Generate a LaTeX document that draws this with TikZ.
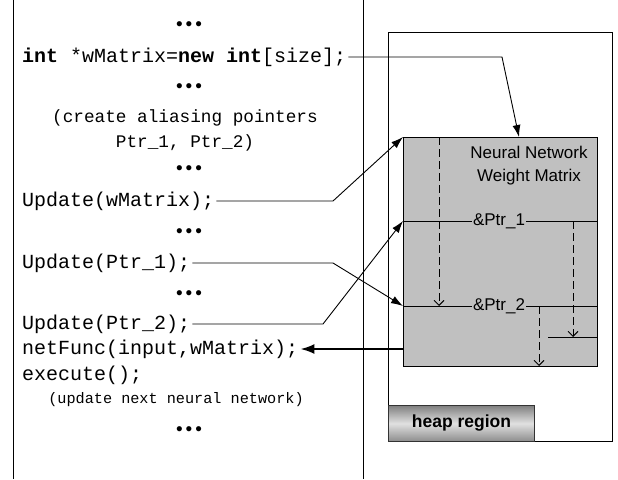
\documentclass[tikz,border=0pt]{standalone}
\usepackage{fontspec}
\setmainfont{Liberation Sans}
\newfontfamily\codefont{Liberation Mono}
\usetikzlibrary{arrows.meta,calc}
\definecolor{wmgray}{HTML}{C0C0C0}
\newcommand{\threedots}{•\hspace{3pt}•\hspace{3pt}•}
\begin{document}
\begin{tikzpicture}[x=1pt,y=-1pt,
  code/.style={anchor=west,inner xsep=2pt,inner ysep=0pt,font=\codefont\fontsize{20}{24}\selectfont},
  dotsnode/.style={inner sep=0pt,anchor=base,text height=6pt,text depth=0pt,font=\fontsize{19}{20}\selectfont},
  wire/.style={line width=0.9pt},
  ptr/.style={wire,-{Latex[length=12pt,width=8pt]}},
  bigptr/.style={line width=2pt,-{Latex[length=14pt,width=10pt]}},
  dptr/.style={line width=0.9pt,dash pattern=on 8pt off 4pt,-{Straight Barb[length=5pt,width=10pt]}},
  ptrlabel/.style={fill=wmgray,inner xsep=1pt,inner ysep=0pt,font=\fontsize{17}{20}\selectfont},
]
\useasboundingbox (0,0) rectangle (618,479);
% column rules
\coordinate (lt) at (13,0); \coordinate (lb) at (13,479);
\coordinate (mt) at (363,0); \coordinate (mb) at (363,479);
\draw[wire] (lt) -- (lb);
\draw[wire] (mt) -- (mb);

% code column
\node[dotsnode] (d1) at (189,30) {\threedots};
\node[code] (c1) at (20,57) {\textbf{int} *wMatrix=\textbf{new} \textbf{int}[size];};
\node[dotsnode] (d2) at (189,92) {\threedots};
\node[inner sep=0pt,align=center,font=\codefont\fontsize{17.7}{25}\selectfont] (cm1) at (185,130) {(create aliasing pointers\\Ptr\_1, Ptr\_2)};
\node[dotsnode] (d3) at (189,174) {\threedots};
\node[code] (uw) at (20,201) {Update(wMatrix);};
\node[dotsnode] (d4) at (189,237) {\threedots};
\node[code] (u1) at (20,263) {Update(Ptr\_1);};
\node[dotsnode] (d5) at (189,299) {\threedots};
\node[code] (u2) at (20,324) {Update(Ptr\_2);};
\node[code] (nf) at (20,349) {netFunc(input,wMatrix);};
\node[code] (ex) at (20,375) {execute();};
\node[inner sep=0pt,font=\codefont\fontsize{15.2}{18}\selectfont] (cm2) at (176,400) {(update next neural network)};
\node[dotsnode] (d6) at (189,435) {\threedots};

% heap
\node[draw,wire,minimum width=224,minimum height=409,anchor=north west,inner sep=0pt] (heap) at (388,32) {};
\node[draw,wire,fill=wmgray,minimum width=194,minimum height=229,anchor=north west,inner sep=0pt] (wm) at (403,137) {};
\node[inner sep=0pt,align=center,font=\fontsize{17}{23}\selectfont] (wmt) at (529,165.5) {Neural Network\\Weight Matrix};

\coordinate (p1w) at (403,221); \coordinate (p1e) at (597,221);
\coordinate (p2w) at (403,306); \coordinate (p2e) at (597,306);
\coordinate (sl1) at (548,337); \coordinate (sl2) at (597,337);
\draw[wire] (p1w) -- (p1e);
\draw[wire] (p2w) -- (p2e);
\draw[wire] (sl1) -- (sl2);

\coordinate (ds1) at (439,137); \coordinate (de1) at (439,306);
\coordinate (ds2) at (573,221); \coordinate (de2) at (573,337);
\coordinate (ds3) at (539,306); \coordinate (de3) at (539,366);
\draw[dptr] (ds1) -- (de1);
\draw[dptr] (ds2) -- (de2);
\draw[dptr] (ds3) -- (de3);

\node[ptrlabel] (p1) at (499,221) {\&Ptr\_1};
\node[ptrlabel] (p2) at (499,306) {\&Ptr\_2};

\node[draw=black!80,wire,minimum width=146,minimum height=36,anchor=north west,inner sep=0pt,
  top color=black!50,bottom color=black!45,middle color=black!12,
  font=\bfseries\fontsize{17.5}{20}\selectfont] (hr) at (388,405) {heap region};

% connectors
\coordinate (wmtop) at (519,137);
\draw[ptr] (c1.east) -- (502,57) -- (wmtop);
\draw[ptr] (uw.east) -- (333,201) -- (wm.north west);
\draw[ptr] (u1.east) -- (333,263) -- (p2w);
\draw[ptr] (u2.east) -- (323,324) -- (p1w);
\draw[bigptr] (wm.west |- nf.east) -- (nf.east);
\end{tikzpicture}
\end{document}
